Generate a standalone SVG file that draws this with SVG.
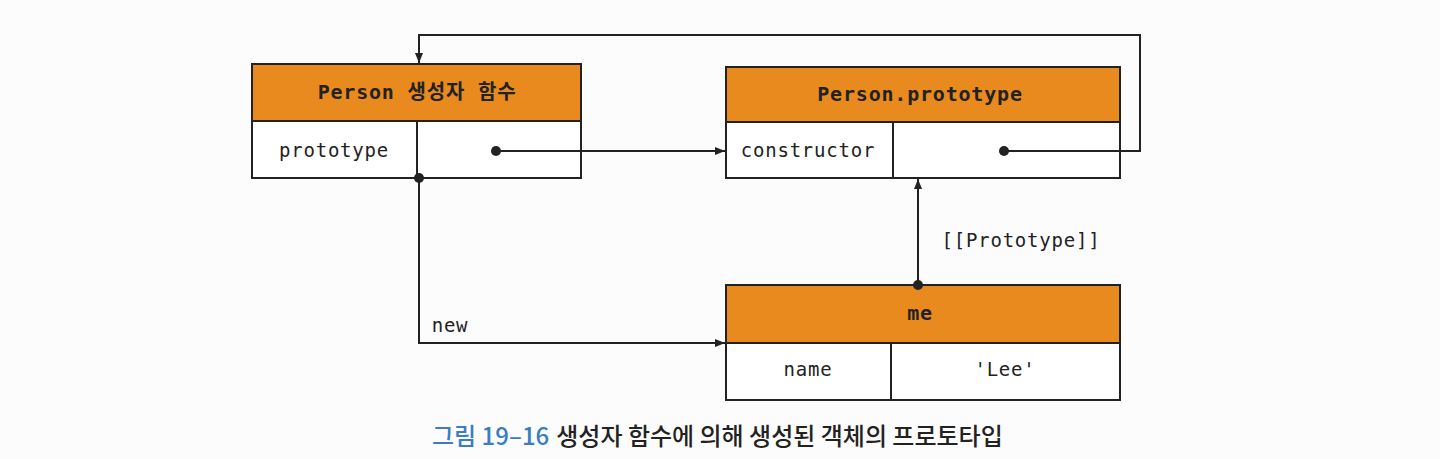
<svg xmlns="http://www.w3.org/2000/svg" width="1440" height="459" viewBox="0 0 1440 459">
<style>
.hdr{fill:#E98A1F;stroke:#222;stroke-width:2}
.cell{fill:#fff;stroke:#222;stroke-width:2}
.t{font-family:"DejaVu Sans Mono","Noto Sans CJK KR",monospace;font-size:19px;fill:#222;text-anchor:middle;letter-spacing:0.8px}
.b{font-weight:bold;font-size:20px}
.ln{fill:none;stroke:#222;stroke-width:2}
.dot{fill:#222}
.cap{font-family:"Noto Sans CJK KR","Noto Sans",sans-serif;font-size:24px;font-weight:500}
</style>
<defs>
<marker id="ah" viewBox="0 0 10 10" refX="10" refY="5" markerWidth="10" markerHeight="10" markerUnits="userSpaceOnUse" orient="auto">
<path d="M0,1 L10,5 L0,9 Z" fill="#222"/>
</marker>
</defs>
<rect width="1440" height="459" fill="#fcfcfc"/>
<g id="person-ctor">
<rect class="hdr" x="252" y="64" width="329" height="57"/>
<rect class="cell" x="252" y="121" width="165" height="57"/>
<rect class="cell" x="417" y="121" width="164" height="57"/>
<text class="t b" x="417" y="99">Person 생성자 함수</text>
<text class="t" x="334" y="157">prototype</text>
</g>
<g id="person-prototype">
<rect class="hdr" x="726" y="67" width="394" height="55"/>
<rect class="cell" x="726" y="122" width="167" height="56"/>
<rect class="cell" x="893" y="122" width="227" height="56"/>
<text class="t b" x="920" y="101">Person.prototype</text>
<text class="t" x="808" y="157">constructor</text>
</g>
<g id="me">
<rect class="hdr" x="726" y="285" width="394" height="58"/>
<rect class="cell" x="726" y="343" width="165" height="57"/>
<rect class="cell" x="891" y="343" width="229" height="57"/>
<text class="t b" x="920" y="320">me</text>
<text class="t" x="808" y="376">name</text>
<text class="t" x="1005" y="376">'Lee'</text>
</g>
<g id="connectors">
<line class="ln" x1="496" y1="151" x2="725" y2="151" marker-end="url(#ah)"/>
<circle class="dot" cx="496" cy="151" r="5"/>
<polyline class="ln" points="1004,151 1140,151 1140,35 419,35 419,63" marker-end="url(#ah)"/>
<circle class="dot" cx="1004" cy="151" r="5"/>
<polyline class="ln" points="419,178 419,343 725,343" marker-end="url(#ah)"/>
<circle class="dot" cx="419" cy="178" r="5"/>
<line class="ln" x1="918" y1="285" x2="918" y2="179" marker-end="url(#ah)"/>
<circle class="dot" cx="918" cy="285" r="5"/>
<text class="t" x="1021" y="247">[[Prototype]]</text>
<text class="t" x="450" y="332">new</text>
</g>
<text class="cap" x="432" y="445"><tspan fill="#3B7DC0">그림 19–16</tspan><tspan fill="#222" dx="7">생성자 함수에 의해 생성된 객체의 프로토타입</tspan></text>
</svg>
